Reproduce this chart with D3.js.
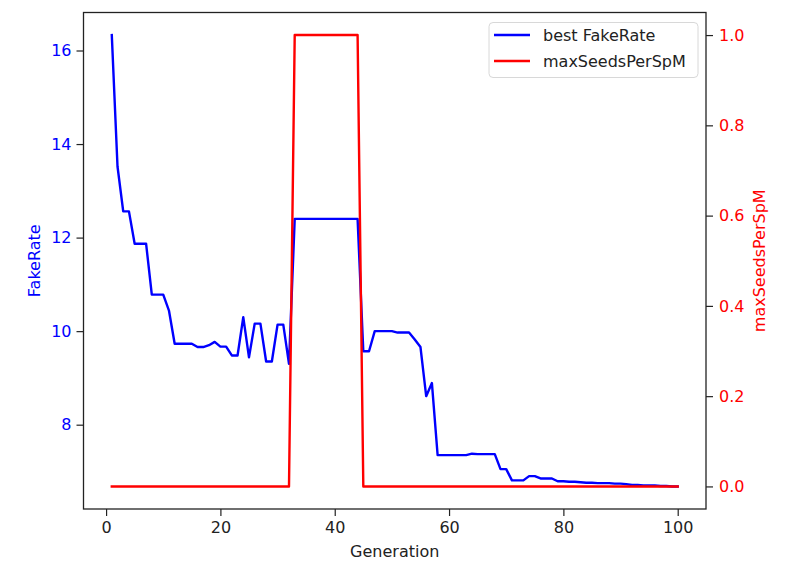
<!DOCTYPE html>
<html>
<head>
<meta charset="utf-8">
<script src="https://cdn.jsdelivr.net/npm/d3@7"></script>
<style>
  body { margin: 0; background: #fff; }
  text { font-family: "DejaVu Sans", sans-serif; }
</style>
</head>
<body>
<svg id="chart"></svg>
<script>
const width = 789;
const height = 561;

const margin = { top: 12.5, right: 83, bottom: 52, left: 83.5 };

// generations 1..100
const generations = d3.range(1, 101);

// best FakeRate per generation
const fakeRate = [
  16.33, 13.52, 12.56, 12.56, 11.87, 11.87, 11.87, 10.78, 10.78, 10.78,
  10.44, 9.73, 9.73, 9.73, 9.73, 9.66, 9.66, 9.70, 9.77, 9.67,
  9.67, 9.48, 9.48, 10.30, 9.44, 10.16, 10.16, 9.35, 9.35, 10.14,
  10.14, 9.30, 12.40, 12.40, 12.40, 12.40, 12.40, 12.40, 12.40, 12.40,
  12.40, 12.40, 12.40, 12.40, 9.57, 9.57, 10.00, 10.00, 10.00, 10.00,
  9.97, 9.97, 9.97, 9.82, 9.66, 8.61, 8.89, 7.35, 7.35, 7.35,
  7.35, 7.35, 7.35, 7.38, 7.37, 7.37, 7.37, 7.37, 7.05, 7.05,
  6.81, 6.81, 6.81, 6.90, 6.90, 6.85, 6.85, 6.85, 6.79, 6.79,
  6.78, 6.78, 6.77, 6.76, 6.76, 6.75, 6.75, 6.75, 6.74, 6.74,
  6.73, 6.71, 6.71, 6.70, 6.70, 6.70, 6.69, 6.69, 6.68, 6.68
];

// maxSeedsPerSpM per generation
const maxSeeds = [
  0, 0, 0, 0, 0, 0, 0, 0, 0, 0,
  0, 0, 0, 0, 0, 0, 0, 0, 0, 0,
  0, 0, 0, 0, 0, 0, 0, 0, 0, 0,
  0, 0, 1, 1, 1, 1, 1, 1, 1, 1,
  1, 1, 1, 1, 0, 0, 0, 0, 0, 0,
  0, 0, 0, 0, 0, 0, 0, 0, 0, 0,
  0, 0, 0, 0, 0, 0, 0, 0, 0, 0,
  0, 0, 0, 0, 0, 0, 0, 0, 0, 0,
  0, 0, 0, 0, 0, 0, 0, 0, 0, 0,
  0, 0, 0, 0, 0, 0, 0, 0, 0, 0
];

const xTicks = [0, 20, 40, 60, 80, 100];
const leftTicks = [8, 10, 12, 14, 16];
const rightTicks = [0.0, 0.2, 0.4, 0.6, 0.8, 1.0];

const seriesNames = ["best FakeRate", "maxSeedsPerSpM"];
const blue = "#0000ff";
const red = "#ff0000";

// matplotlib style 5% margins
function padded(ext) {
  const p = (ext[1] - ext[0]) * 0.05;
  return [ext[0] - p, ext[1] + p];
}

const svg = d3.select("#chart").attr("width", width).attr("height", height);
svg.append("rect").attr("width", width).attr("height", height).attr("fill", "#fff");

const x = d3.scaleLinear()
  .domain(padded(d3.extent(generations)))
  .range([margin.left, width - margin.right]);
const yLeft = d3.scaleLinear()
  .domain(padded(d3.extent(fakeRate)))
  .range([height - margin.bottom, margin.top]);
const yRight = d3.scaleLinear()
  .domain(padded(d3.extent(maxSeeds)))
  .range([height - margin.bottom, margin.top]);

const plotBottom = height - margin.bottom;
const plotRight = width - margin.right;

// lines
const blueLine = d3.line().x((d, i) => x(generations[i])).y(d => yLeft(d));
const redLine = d3.line().x((d, i) => x(generations[i])).y(d => yRight(d));

svg.append("path")
  .datum(fakeRate)
  .attr("d", blueLine)
  .attr("fill", "none")
  .attr("stroke", blue)
  .attr("stroke-width", 2.4)
  .attr("stroke-linejoin", "round")
  .attr("stroke-linecap", "square");

svg.append("path")
  .datum(maxSeeds)
  .attr("d", redLine)
  .attr("fill", "none")
  .attr("stroke", red)
  .attr("stroke-width", 2.4)
  .attr("stroke-linejoin", "round")
  .attr("stroke-linecap", "square");

// axes
const xAxis = svg.append("g")
  .attr("transform", `translate(0,${plotBottom})`)
  .call(d3.axisBottom(x).tickValues(xTicks).tickSize(7).tickPadding(6).tickFormat(d3.format("d")));

const leftAxis = svg.append("g")
  .attr("transform", `translate(${margin.left},0)`)
  .call(d3.axisLeft(yLeft).tickValues(leftTicks).tickSize(7).tickPadding(5).tickFormat(d3.format("d")));

const rightAxis = svg.append("g")
  .attr("transform", `translate(${plotRight},0)`)
  .call(d3.axisRight(yRight).tickValues(rightTicks).tickSize(7).tickPadding(6).tickFormat(d3.format(".1f")));

[xAxis, leftAxis, rightAxis].forEach(g => {
  g.select(".domain").remove();
  g.selectAll(".tick line").attr("stroke", "#222").attr("stroke-width", 1.2);
  g.selectAll(".tick text").attr("font-size", 16).attr("font-family", "DejaVu Sans, sans-serif");
});
xAxis.selectAll(".tick text").attr("fill", "#222");
leftAxis.selectAll(".tick text").attr("fill", blue);
rightAxis.selectAll(".tick text").attr("fill", red);

// frame
svg.append("rect")
  .attr("x", margin.left)
  .attr("y", margin.top)
  .attr("width", plotRight - margin.left)
  .attr("height", plotBottom - margin.top)
  .attr("fill", "none")
  .attr("stroke", "#222")
  .attr("stroke-width", 1.3);

// axis labels
const midY = (margin.top + plotBottom) / 2;

svg.append("text")
  .attr("x", (margin.left + plotRight) / 2)
  .attr("y", 557)
  .attr("text-anchor", "middle")
  .attr("font-size", 16)
  .attr("fill", "#222")
  .text("Generation");

svg.append("text")
  .attr("transform", `translate(34,${midY}) rotate(-90)`)
  .attr("text-anchor", "middle")
  .attr("dominant-baseline", "central")
  .attr("font-size", 16)
  .attr("fill", blue)
  .text("FakeRate");

svg.append("text")
  .attr("transform", `translate(759,${midY}) rotate(-90)`)
  .attr("text-anchor", "middle")
  .attr("dominant-baseline", "central")
  .attr("font-size", 16)
  .attr("fill", red)
  .text("maxSeedsPerSpM");

// legend
const legend = svg.append("g");
legend.append("rect")
  .attr("x", 489)
  .attr("y", 22.5)
  .attr("width", 209)
  .attr("height", 55)
  .attr("rx", 4)
  .attr("fill", "#fff")
  .attr("fill-opacity", 0.8)
  .attr("stroke", "#d8d8d8")
  .attr("stroke-width", 1);

const legendColors = [blue, red];
const legendY = [35, 61];
seriesNames.forEach((name, i) => {
  legend.append("line")
    .attr("x1", 494).attr("x2", 530)
    .attr("y1", legendY[i]).attr("y2", legendY[i])
    .attr("stroke", legendColors[i])
    .attr("stroke-width", 2.4);
  legend.append("text")
    .attr("x", 543)
    .attr("y", legendY[i])
    .attr("dominant-baseline", "central")
    .attr("font-size", 16)
    .attr("fill", "#222")
    .text(name);
});
</script>
</body>
</html>
